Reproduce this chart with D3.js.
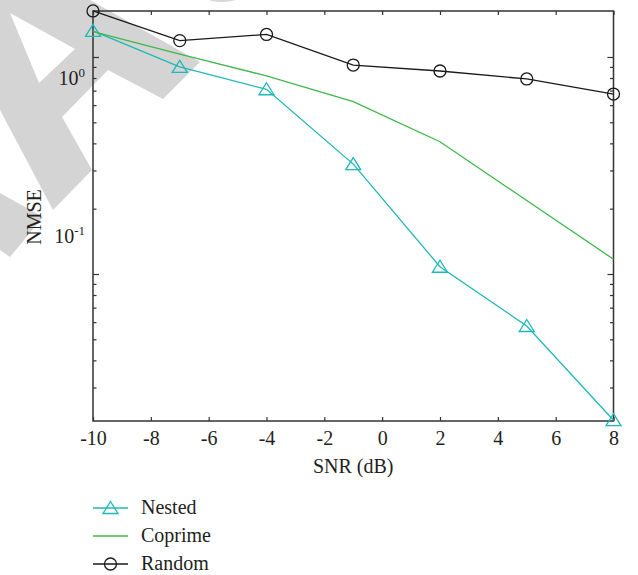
<!DOCTYPE html>
<html>
<head>
<meta charset="utf-8">
<script src="https://cdn.jsdelivr.net/npm/d3@7"></script>
<style>
  body { margin: 0; background: #fff; }
  text { font-family: "Liberation Serif", "DejaVu Serif", serif; fill: #231f20; }
</style>
</head>
<body>
<script>
// dati
var snr = [-10, -7, -4, -1, 2, 5, 8];
var nested = [1.32, 0.90, 0.71, 0.321, 0.108, 0.0576, 0.0212];
var coprime = [1.31, 1.03, 0.818, 0.623, 0.407, 0.218, 0.117];
var random = [1.63, 1.19, 1.27, 0.918, 0.862, 0.792, 0.675];
var seriesNames = ["Nested", "Coprime", "Random"];
var xTicks = [-10, -8, -6, -4, -2, 0, 2, 4, 6, 8];
var yMajor = [0.1, 1];
var yMinor = [0.03, 0.04, 0.05, 0.06, 0.07, 0.08, 0.09, 0.2, 0.3, 0.4, 0.5, 0.6, 0.7, 0.8, 0.9];
var yLabels = [{v: 1, exp: "0", shift: 28}, {v: 0.1, exp: "-1", shift: -31}];

// grandezze
var W = 638, H = 575;
var plot = {left: 93, right: 613.5, top: 11, bottom: 421};
var axisColor = "#333";

var x = d3.scaleLinear().domain([-10, 8]).range([plot.left, plot.right]);
var y = d3.scaleLog().domain([0.02102, 1.629]).range([plot.bottom, plot.top]);

var svg = d3.select("body").append("svg")
    .attr("width", W)
    .attr("height", H);

// filigrana grigia
svg.append("path")
    .attr("fill", "#d4d4d4")
    .attr("fill-rule", "evenodd")
    .attr("d", "M0,0 L90,0 L200,62 L163,99 L108,70 L62,117 L92,170 L53,210 L0,110 Z M10,13 L75,49 L39,83 Z");
svg.append("path")
    .attr("fill", "#d4d4d4")
    .attr("d", "M0,193 L43,217 L10,257 L0,250 Z");
svg.append("ellipse")
    .attr("cx", 222).attr("cy", -12).attr("rx", 26).attr("ry", 14)
    .attr("fill", "#d8d8d8");

// assi
function styleAxis(g) {
  g.select(".domain").remove();
  g.selectAll(".tick line").attr("stroke", axisColor).attr("stroke-width", 1.2);
}

svg.append("g")
    .attr("transform", "translate(0," + plot.bottom + ")")
    .call(d3.axisBottom(x).tickValues(xTicks).tickSize(-4).tickPadding(10).tickFormat(function(d){ return String(d); }))
    .call(styleAxis)
    .call(function(g){ g.selectAll("text").attr("font-size", 20).attr("font-family", "Liberation Serif").attr("fill", "#231f20"); });

svg.append("g")
    .attr("transform", "translate(0," + plot.top + ")")
    .call(d3.axisTop(x).tickValues(xTicks).tickSize(-4).tickFormat(""))
    .call(styleAxis);

[[yMajor, 6], [yMinor, 3.5]].forEach(function(t){
  svg.append("g")
      .attr("transform", "translate(" + plot.left + ",0)")
      .call(d3.axisLeft(y).tickValues(t[0]).tickSize(-t[1]).tickFormat(""))
      .call(styleAxis);
  svg.append("g")
      .attr("transform", "translate(" + plot.right + ",0)")
      .call(d3.axisRight(y).tickValues(t[0]).tickSize(-t[1]).tickFormat(""))
      .call(styleAxis);
});

svg.append("rect")
    .attr("x", plot.left).attr("y", plot.top)
    .attr("width", plot.right - plot.left).attr("height", plot.bottom - plot.top)
    .attr("fill", "none").attr("stroke", axisColor).attr("stroke-width", 1.5);

// etichette asse y (10^n)
yLabels.forEach(function(l){
  var t = svg.append("text")
      .attr("x", plot.left - 8)
      .attr("y", y(l.v) + l.shift)
      .attr("text-anchor", "end")
      .attr("font-size", 20);
  t.append("tspan").text("10");
  t.append("tspan").attr("dy", -8).attr("font-size", 13).text(l.exp);
});

svg.append("text")
    .attr("transform", "translate(41,217) rotate(-90)")
    .attr("text-anchor", "middle")
    .attr("font-size", 20)
    .text("NMSE");

svg.append("text")
    .attr("x", (plot.left + plot.right) / 2)
    .attr("y", 473)
    .attr("text-anchor", "middle")
    .attr("font-size", 20)
    .text("SNR (dB)");

// serie
var series = [
  {name: seriesNames[0], values: nested, color: "#1fb8b8", marker: "triangle"},
  {name: seriesNames[1], values: coprime, color: "#3cb94a", marker: "none"},
  {name: seriesNames[2], values: random, color: "#1a1a1a", marker: "circle"}
];

var line = d3.line()
    .x(function(d){ return x(d[0]); })
    .y(function(d){ return y(d[1]); });

var triPath = "M0,-6.5 L7.5,5.5 L-7.5,5.5 Z";

function drawMarker(g, type, color) {
  if (type === "triangle") {
    g.append("path").attr("d", triPath).attr("fill", "none").attr("stroke", color).attr("stroke-width", 1.3);
  } else if (type === "circle") {
    g.append("circle").attr("r", 6).attr("fill", "none").attr("stroke", color).attr("stroke-width", 1.3);
  }
}

series.forEach(function(s){
  var pts = snr.map(function(v, i){ return [v, s.values[i]]; });
  svg.append("path")
      .datum(pts)
      .attr("d", line)
      .attr("fill", "none")
      .attr("stroke", s.color)
      .attr("stroke-width", 1.3);
  pts.forEach(function(p){
    var g = svg.append("g").attr("transform", "translate(" + x(p[0]) + "," + y(p[1]) + ")");
    drawMarker(g, s.marker, s.color);
  });
});

// legenda
var legend = svg.append("g").attr("transform", "translate(93,508)");
series.forEach(function(s, i){
  var row = legend.append("g").attr("transform", "translate(0," + (i * 28) + ")");
  row.append("line")
      .attr("x1", 0).attr("x2", 35)
      .attr("stroke", s.color).attr("stroke-width", 1.3);
  drawMarker(row.append("g").attr("transform", "translate(17.5,0)"), s.marker, s.color);
  row.append("text")
      .attr("x", 48)
      .attr("y", 6)
      .attr("font-size", 20)
      .text(s.name);
});
</script>
</body>
</html>
